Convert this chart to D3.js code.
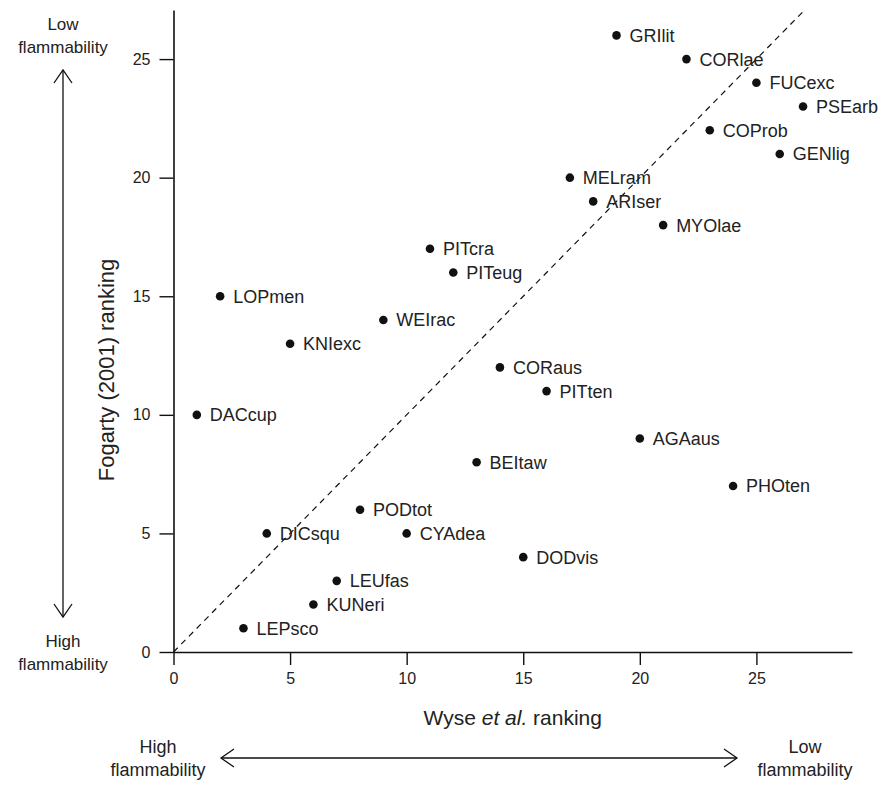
<!DOCTYPE html>
<html>
<head>
<meta charset="utf-8">
<script src="https://cdnjs.cloudflare.com/ajax/libs/d3/7.8.5/d3.min.js"></script>
<style>
  body { margin: 0; background: #fff; }
  svg { font-family: "Liberation Sans", Arial, sans-serif; }
</style>
</head>
<body>
<svg width="881" height="787"></svg>
<script>
/*------------------------
  ------ VARIABLES -------
  ------------------------*/

// input
var species = ["GRIlit", "CORlae", "FUCexc", "PSEarb", "COProb", "GENlig", "MELram",
               "ARIser", "MYOlae", "PITcra", "PITeug", "LOPmen", "WEIrac", "KNIexc",
               "CORaus", "PITten", "DACcup", "AGAaus", "BEItaw", "PHOten", "PODtot",
               "DICsqu", "CYAdea", "DODvis", "LEUfas", "KUNeri", "LEPsco"];
var wyse    = [19, 22, 25, 27, 23, 26, 17, 18, 21, 11, 12, 2, 9, 5,
               14, 16, 1, 20, 13, 24, 8, 4, 10, 15, 7, 6, 3];
var fogarty = [26, 25, 24, 23, 22, 21, 20, 19, 18, 17, 16, 15, 14, 13,
               12, 11, 10, 9, 8, 7, 6, 5, 5, 4, 3, 2, 1];
var ticks = [0, 5, 10, 15, 20, 25];
var diag = [0, 27];

// display settings
var svg = d3.select("svg");
var x = d3.scaleLinear().domain([0, 29.1]).range([173.5, 852]);
var y = d3.scaleLinear().domain([0, 27.07]).range([652, 10]);

var points = species.map(function(s, i) {
    return {name: s, wx: wyse[i], fy: fogarty[i]};
});

/*------------------------
  -------- AXES ----------
  ------------------------*/

function display_axes() {
    var gx = svg.append("g")
        .attr("transform", "translate(0," + y(0) + ")")
        .call(d3.axisBottom(x).tickValues(ticks).tickSizeInner(13).tickSizeOuter(0).tickPadding(8));
    var gy = svg.append("g")
        .attr("transform", "translate(" + x(0) + ",0)")
        .call(d3.axisLeft(y).tickValues(ticks).tickSizeInner(14).tickSizeOuter(0).tickPadding(9));

    [gx, gy].forEach(function(g) {
        g.select(".domain").attr("stroke", "#111").attr("stroke-width", 1.6);
        g.selectAll(".tick line").attr("stroke", "#111").attr("stroke-width", 1.4);
        g.selectAll(".tick text").attr("font-size", 16).attr("fill", "#222")
            .attr("font-family", "Liberation Sans, Arial, sans-serif");
    });

    var xl = svg.append("text")
        .attr("x", (x.range()[0] + x.range()[1]) / 2)
        .attr("y", 725)
        .attr("text-anchor", "middle")
        .attr("font-size", 21)
        .attr("fill", "#222");
    xl.append("tspan").text("Wyse ");
    xl.append("tspan").attr("font-style", "italic").text("et al.");
    xl.append("tspan").text(" ranking");

    svg.append("text")
        .attr("transform", "translate(114," + 370 + ") rotate(-90)")
        .attr("text-anchor", "middle")
        .attr("font-size", 22)
        .attr("fill", "#222")
        .text("Fogarty (2001) ranking");
}

/*------------------------
  -------- MARKS ---------
  ------------------------*/

function display_points() {
    svg.append("line")
        .attr("x1", x(diag[0])).attr("y1", y(diag[0]))
        .attr("x2", x(diag[1])).attr("y2", y(diag[1]))
        .attr("stroke", "#111")
        .attr("stroke-width", 1.2)
        .attr("stroke-dasharray", "6,5");

    var layer = svg.append("g");
    layer.selectAll("circle")
        .data(points)
        .enter()
        .append("circle")
        .attr("cx", function(d) { return x(d.wx); })
        .attr("cy", function(d) { return y(d.fy); })
        .attr("r", 4.3)
        .attr("fill", "#111");

    layer.selectAll("text")
        .data(points)
        .enter()
        .append("text")
        .attr("x", function(d) { return x(d.wx) + 13; })
        .attr("y", function(d) { return y(d.fy); })
        .attr("dy", "0.36em")
        .attr("font-size", 18)
        .attr("fill", "#222")
        .text(function(d) { return d.name; });
}

/*------------------------
  ---- FLAMMABILITY ------
  ------------------------*/

function arrow_head(px, py, dx, dy) {
    // open V head, dx/dy = pointing direction
    var len = 13, w = 9;
    var bx = px - dx * len, by = py - dy * len;
    svg.append("path")
        .attr("d", "M" + (bx - dy * w) + "," + (by + dx * w) + "L" + px + "," + py +
                   "L" + (bx + dy * w) + "," + (by - dx * w))
        .attr("fill", "none")
        .attr("stroke", "#111")
        .attr("stroke-width", 1.3);
}

function two_lines(cx, cy, a, b, size) {
    var t = svg.append("text")
        .attr("x", cx).attr("y", cy)
        .attr("text-anchor", "middle")
        .attr("font-size", size)
        .attr("fill", "#222");
    t.append("tspan").attr("x", cx).text(a);
    t.append("tspan").attr("x", cx).attr("dy", 23).text(b);
}

function display_flammability() {
    // vertical
    svg.append("line").attr("x1", 63).attr("x2", 63).attr("y1", 70).attr("y2", 617)
        .attr("stroke", "#111").attr("stroke-width", 1.3);
    arrow_head(63, 70, 0, -1);
    arrow_head(63, 617, 0, 1);
    two_lines(63, 30, "Low", "flammability", 17);
    two_lines(63, 647, "High", "flammability", 17);

    // horizontal
    svg.append("line").attr("x1", 221).attr("x2", 737).attr("y1", 758).attr("y2", 758)
        .attr("stroke", "#111").attr("stroke-width", 1.3);
    arrow_head(221, 758, -1, 0);
    arrow_head(737, 758, 1, 0);
    two_lines(158, 753, "High", "flammability", 18);
    two_lines(805, 753, "Low", "flammability", 18);
}

/*------------------
  ------ RUN -------
  ------------------*/

display_flammability();
display_points();
display_axes();
</script>
</body>
</html>
